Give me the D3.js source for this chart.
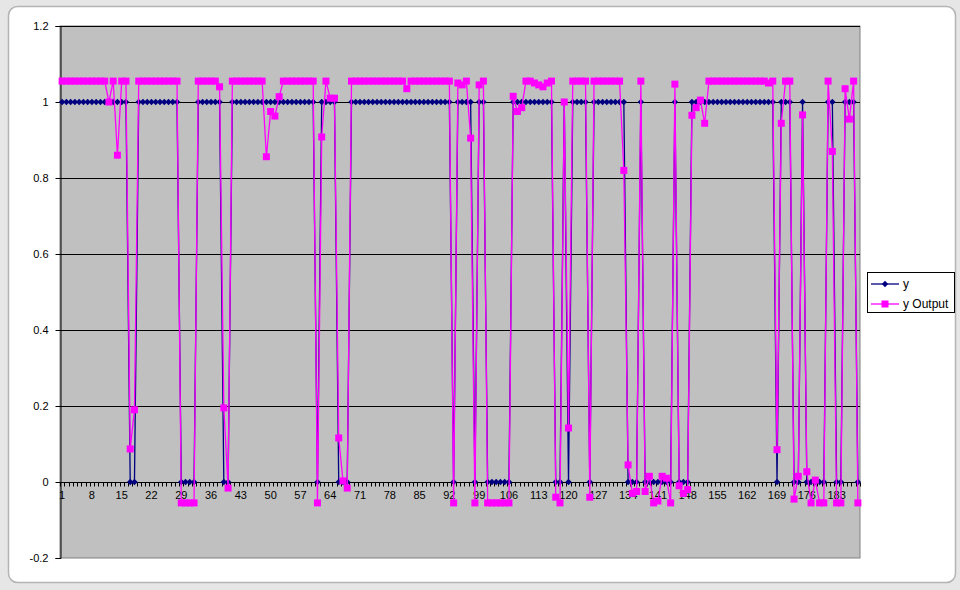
<!DOCTYPE html>
<html>
<head>
<meta charset="utf-8">
<script src="https://cdn.jsdelivr.net/npm/d3@7"></script>
<style>
  html, body { margin: 0; padding: 0; background: #e6e6e6; }
  svg { display: block; font-family: "Liberation Sans", Arial, sans-serif; }
</style>
</head>
<body>
<svg id="chart" width="960" height="590"></svg>
<script>
// Category index (1..188)
const categories = d3.range(1, 189);

// Actual class value
const ySeries = [
  1,1,1,1,1,1,1,1,1,1,
  1,1,1,1,1,1,0,0,1,1,
  1,1,1,1,1,1,1,1,0,0,
  0,0,1,1,1,1,1,1,0,0,
  1,1,1,1,1,1,1,1,1,1,
  1,1,1,1,1,1,1,1,1,1,
  0,1,1,1,1,0,0,0,1,1,
  1,1,1,1,1,1,1,1,1,1,
  1,1,1,1,1,1,1,1,1,1,
  1,1,0,1,1,1,1,0,1,1,
  0,0,0,0,0,0,1,1,1,1,
  1,1,1,1,1,1,0,0,1,0,
  1,1,1,1,0,1,1,1,1,1,
  1,1,1,0,0,0,1,0,0,0,
  0,0,0,0,1,0,0,0,1,1,
  1,1,1,1,1,1,1,1,1,1,
  1,1,1,1,1,1,1,1,0,1,
  1,1,0,0,1,0,0,0,0,0,
  1,1,0,0,1,1,1,0
];

// Network output
const yOutput = [
  1.055,1.055,1.055,1.055,1.055,1.055,1.055,1.055,1.055,1.055,
  1.055,1.0,1.055,0.86,1.055,1.055,0.087,0.19,1.055,1.055,
  1.055,1.055,1.055,1.055,1.055,1.055,1.055,1.055,-0.055,-0.055,
  -0.055,-0.055,1.055,1.055,1.055,1.055,1.055,1.04,0.195,-0.016,
  1.055,1.055,1.055,1.055,1.055,1.055,1.055,1.055,0.856,0.975,
  0.963,1.014,1.055,1.055,1.055,1.055,1.055,1.055,1.055,1.055,
  -0.055,0.908,1.055,1.01,1.01,0.116,0.003,-0.016,1.055,1.055,
  1.055,1.055,1.055,1.055,1.055,1.055,1.055,1.055,1.055,1.055,
  1.055,1.035,1.055,1.055,1.055,1.055,1.055,1.055,1.055,1.055,
  1.055,1.055,-0.055,1.05,1.045,1.055,0.905,-0.055,1.045,1.055,
  -0.055,-0.055,-0.055,-0.055,-0.055,-0.055,1.015,0.975,0.985,1.055,
  1.055,1.05,1.045,1.04,1.05,1.055,-0.04,-0.055,1.0,0.142,
  1.055,1.055,1.055,1.055,-0.04,1.055,1.055,1.055,1.055,1.055,
  1.055,1.055,0.82,0.045,-0.03,-0.025,1.055,-0.025,0.015,-0.055,
  -0.05,0.015,0.01,-0.055,1.047,-0.01,-0.03,-0.02,0.965,0.985,
  1.005,0.944,1.055,1.055,1.055,1.055,1.055,1.055,1.055,1.055,
  1.055,1.055,1.055,1.055,1.055,1.055,1.05,1.055,0.085,0.944,
  1.055,1.055,-0.045,0.015,0.966,0.027,-0.055,0.005,-0.055,-0.055,
  1.055,0.87,-0.055,-0.055,1.035,0.955,1.055,-0.055
];

// Axis labels
const yTicks = [-0.2, 0, 0.2, 0.4, 0.6, 0.8, 1, 1.2];
const xLabelCats = [1, 8, 15, 22, 29, 36, 43, 50, 57, 64, 71, 78, 85, 92, 99, 106,
                    113, 120, 127, 134, 141, 148, 155, 162, 169, 176, 183];
const seriesNames = ["y", "y Output"];
const seriesColors = ["#000080", "#FF00FF"];

const svg = d3.select("#chart");

// chart area frame
svg.append("rect")
  .attr("x", 8.5).attr("y", 6.5).attr("width", 947).attr("height", 576)
  .attr("rx", 9).attr("ry", 9)
  .attr("fill", "#ffffff").attr("stroke", "#b4b4b4").attr("stroke-width", 1.5);

const plot = { left: 60, right: 860, top: 26, bottom: 558 };

const x = d3.scaleBand().domain(categories).range([plot.left, plot.right]).padding(0);
const cx = c => x(c) + x.bandwidth() / 2;
const y = d3.scaleLinear().domain([-0.2, 1.2]).range([plot.bottom, plot.top]);

// plot area
svg.append("rect")
  .attr("x", plot.left).attr("y", plot.top)
  .attr("width", plot.right - plot.left).attr("height", plot.bottom - plot.top)
  .attr("fill", "#c0c0c0").attr("stroke", "#808080").attr("stroke-width", 1);

// horizontal gridlines
svg.append("g").selectAll("line")
  .data(yTicks.filter(t => t > -0.2))
  .join("line")
  .attr("x1", plot.left).attr("x2", plot.right)
  .attr("y1", d => Math.round(y(d)) + 0.5).attr("y2", d => Math.round(y(d)) + 0.5)
  .attr("stroke", "#000").attr("stroke-width", 1);

// value axis
const yAxis = d3.axisLeft(y)
  .tickValues(yTicks)
  .tickSize(5)
  .tickPadding(7)
  .tickFormat(d => String(+d.toFixed(1)));
const gy = svg.append("g")
  .attr("transform", `translate(${plot.left + 0.5},0)`)
  .call(yAxis);
gy.select(".domain").attr("stroke", "#000");
gy.selectAll(".tick line").attr("stroke", "#000");
gy.selectAll(".tick text").attr("font-size", 11).attr("fill", "#000")
  .attr("font-family", "'Liberation Sans', Arial, sans-serif");

// category axis crossing at zero
const y0 = Math.round(y(0)) + 0.5;
const gx = svg.append("g");
gx.append("line")
  .attr("x1", plot.left).attr("x2", plot.right)
  .attr("y1", y0).attr("y2", y0)
  .attr("stroke", "#000");
gx.selectAll("line.minor")
  .data(d3.range(0, categories.length + 1))
  .join("line")
  .attr("class", "minor")
  .attr("x1", i => Math.round(plot.left + i * x.bandwidth()) + 0.5)
  .attr("x2", i => Math.round(plot.left + i * x.bandwidth()) + 0.5)
  .attr("y1", y0).attr("y2", y0 + 4)
  .attr("stroke", "#000");
const xAxis = d3.axisBottom(x).tickValues(xLabelCats).tickSize(0).tickPadding(9);
const gxl = svg.append("g").attr("transform", `translate(0,${y0})`).call(xAxis);
gxl.select(".domain").remove();
gxl.selectAll(".tick text").attr("font-size", 11).attr("fill", "#000")
  .attr("font-family", "'Liberation Sans', Arial, sans-serif");

// series
const diamond = "M0,-3.2L3.2,0L0,3.2L-3.2,0Z";
const pts = (vals) => categories.map((c, i) => [cx(c), y(vals[i])]);
const line = d3.line();

// y
svg.append("path")
  .attr("d", line(pts(ySeries)))
  .attr("fill", "none").attr("stroke", seriesColors[0]).attr("stroke-width", 1.3);
svg.append("g").selectAll("path")
  .data(pts(ySeries))
  .join("path")
  .attr("d", diamond)
  .attr("transform", d => `translate(${d[0]},${d[1]})`)
  .attr("fill", seriesColors[0]);

// y Output
svg.append("path")
  .attr("d", line(pts(yOutput)))
  .attr("fill", "none").attr("stroke", seriesColors[1]).attr("stroke-width", 1.3);
svg.append("g").selectAll("rect")
  .data(pts(yOutput))
  .join("rect")
  .attr("x", d => d[0] - 3.5).attr("y", d => d[1] - 3.5)
  .attr("width", 7).attr("height", 7)
  .attr("fill", seriesColors[1]);

// legend
const lg = svg.append("g");
lg.append("rect")
  .attr("x", 867.5).attr("y", 272.5).attr("width", 87).attr("height", 40)
  .attr("fill", "#fff").attr("stroke", "#000");
seriesNames.forEach((name, i) => {
  const ly = 284 + i * 20;
  lg.append("line").attr("x1", 871).attr("x2", 899).attr("y1", ly).attr("y2", ly)
    .attr("stroke", seriesColors[i]).attr("stroke-width", 1.3);
  if (i === 0) {
    lg.append("path").attr("d", diamond).attr("transform", `translate(885,${ly})`)
      .attr("fill", seriesColors[i]);
  } else {
    lg.append("rect").attr("x", 881.5).attr("y", ly - 3.5).attr("width", 7).attr("height", 7)
      .attr("fill", seriesColors[i]);
  }
  lg.append("text").attr("x", 903).attr("y", ly).attr("dy", "0.35em")
    .attr("font-size", 12).attr("fill", "#000").text(name);
});
</script>
</body>
</html>
